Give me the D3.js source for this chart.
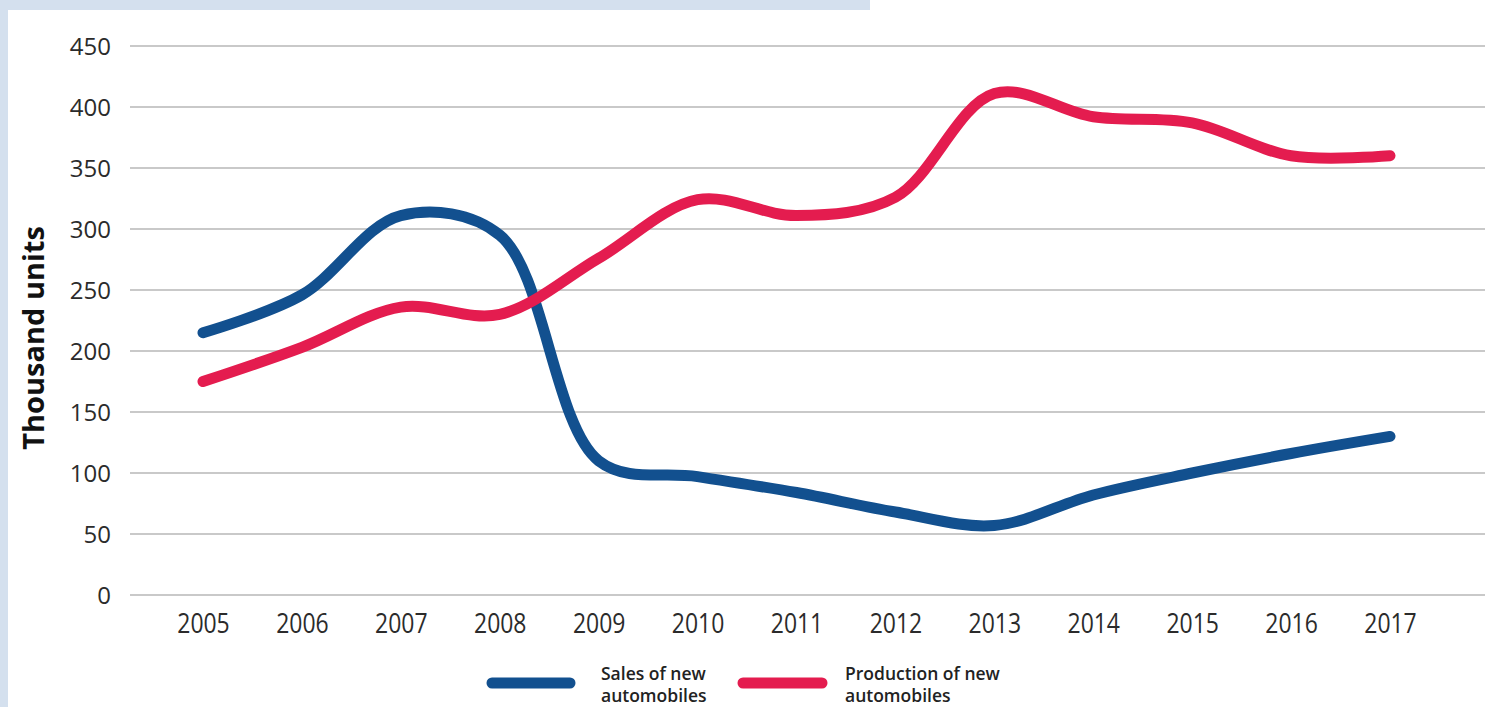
<!DOCTYPE html>
<html><head><meta charset="utf-8">
<script src="https://cdn.jsdelivr.net/npm/d3@7"></script>
<style>html,body{margin:0;padding:0;background:#fff;}svg{display:block;}</style>
</head><body>
<svg id="c" width="1485" height="707"></svg>
<script>
const years = [2005,2006,2007,2008,2009,2010,2011,2012,2013,2014,2015,2016,2017];
const sales = [215,246,311,295,110,97,84,68,57,82,100,116,130];
const production = [175,203,236,230,276,324,311,326,411,392,387,360,360];
const yTicks = [0,50,100,150,200,250,300,350,400,450];
const seriesNames = [["Sales of new","automobiles"],["Production of new","automobiles"]];
const colors = ["#12508f","#e41c4f"];

const svg = d3.select("#c");
// background watermark bands
svg.append("rect").attr("x",0).attr("y",0).attr("width",8).attr("height",707).attr("fill","#d4e0ee");
svg.append("rect").attr("x",0).attr("y",0).attr("width",870).attr("height",10).attr("fill","#d4e0ee");

const x = d3.scaleLinear().domain([2005,2017]).range([203,1390]);
const y = d3.scaleLinear().domain([0,450]).range([595,46]);

const grid = svg.append("g");
grid.selectAll("line").data(yTicks).join("line")
  .attr("x1",130).attr("x2",1485)
  .attr("y1",d=>y(d)).attr("y2",d=>y(d))
  .attr("stroke","#c9c9c9").attr("stroke-width",2);

const yAxis = svg.append("g").attr("transform","translate(111,0)")
  .call(d3.axisLeft(y).tickValues(yTicks).tickSize(0).tickPadding(0));
yAxis.select(".domain").remove();
yAxis.selectAll("text").attr("font-family","Open Sans").attr("font-size",24).attr("fill","#2b2b2b").attr("dy","0.34em");

const xAxis = svg.append("g").attr("transform","translate(0,612)")
  .call(d3.axisBottom(x).tickValues(years).tickFormat(d3.format("d")).tickSize(0).tickPadding(0));
xAxis.select(".domain").remove();
xAxis.selectAll(".tick text").attr("font-family","Open Sans").attr("font-size",28).attr("fill","#2b2b2b")
  .attr("dy","0.75em").attr("transform","scale(0.82,1)");

svg.append("text").attr("transform","translate(36,338) rotate(-90)")
  .attr("text-anchor","middle").attr("dominant-baseline","middle").attr("font-family","Open Sans").attr("font-weight","bold")
  .attr("font-size",29).attr("fill","#111").text("Thousand units");

const line = d3.line().x((d,i)=>x(years[i])).y(d=>y(d)).curve(d3.curveCatmullRom.alpha(0.5));
[sales,production].forEach((s,k)=>{
  svg.append("path").attr("d",line(s)).attr("fill","none").attr("stroke",colors[k])
    .attr("stroke-width",11).attr("stroke-linecap","round").attr("stroke-linejoin","round");
});

// legend
const leg = [{x1:492,x2:570,tx:601},{x1:743,x2:822,tx:845}];
leg.forEach((l,k)=>{
  svg.append("line").attr("x1",l.x1).attr("x2",l.x2).attr("y1",683).attr("y2",683)
    .attr("stroke",colors[k]).attr("stroke-width",11).attr("stroke-linecap","round");
  const t = svg.append("text").attr("x",l.tx).attr("y",680).attr("font-family","Open Sans")
    .attr("font-size",17.5).attr("font-weight",600).attr("fill","#222");
  seriesNames[k].forEach((s,j)=>t.append("tspan").attr("x",l.tx).attr("dy",j?22:0).text(s));
});
</script>
</body></html>
